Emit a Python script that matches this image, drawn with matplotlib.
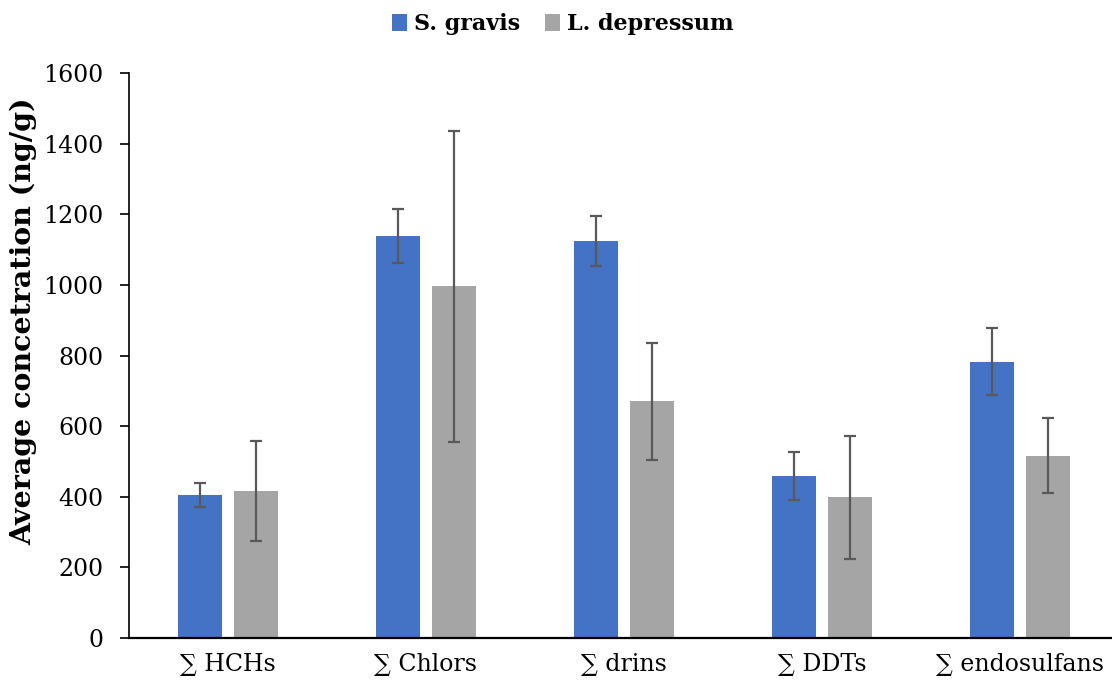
import matplotlib.pyplot as plt
import numpy as np

# data
categories = ["∑ HCHs", "∑ Chlors", "∑ drins", "∑ DDTs", "∑ endosulfans"]
series = ["S. gravis", "L. depressum"]
s_gravis = [405, 1138, 1125, 458, 782]
s_gravis_err = [33, 77, 71, 68, 95]
l_depressum = [416, 996, 670, 398, 516]
l_depressum_err = [142, 440, 166, 174, 106]
yticks = [0, 200, 400, 600, 800, 1000, 1200, 1400, 1600]

colors = ["#4472C4", "#A5A5A5"]

plt.rcParams['font.family'] = ['DejaVu Serif']

fig = plt.figure(figsize=(11.12, 6.96), dpi=100)
# the plot area runs a little past the right edge of the picture, as in the reference
ax = fig.add_axes([0.116, 0.0833, 0.8903, 0.8117])

x = np.arange(len(categories))
width = 0.22
offset = 0.1415
err_kw = dict(ecolor="#595959", elinewidth=1.6, capsize=4.5, capthick=1.6)

ax.bar(x - offset, s_gravis, width, yerr=s_gravis_err, color=colors[0],
       label=series[0], error_kw=err_kw, zorder=2)
ax.bar(x + offset, l_depressum, width, yerr=l_depressum_err, color=colors[1],
       label=series[1], error_kw=err_kw, zorder=2)

ax.set_xlim(-0.5, len(categories) - 0.5)
ax.set_ylim(0, 1600)
ax.set_yticks(yticks)
ax.set_xticks(x)
ax.set_xticklabels(categories, fontsize=17)
ax.tick_params(axis='x', length=0, pad=11)
ax.tick_params(axis='y', length=6.5, width=1.2, labelsize=17, pad=12)

for side in ('top', 'right'):
    ax.spines[side].set_visible(False)
ax.spines['left'].set_linewidth(1.2)
ax.spines['bottom'].set_linewidth(1.6)

# y label sits a bit above the axes centre in the reference
fig.text(0.021, 1 - 321 / 696, "Average concetration (ng/g)", fontsize=20.5,
         fontweight='bold', rotation=90, ha='center', va='center')

fig.legend(loc='upper center', bbox_to_anchor=(0.506, 1.01), ncol=2, frameon=False,
           prop=dict(size=16, weight='bold'),
           handlelength=0.7, handleheight=0.8, handletextpad=0.3, columnspacing=1.1)

fig.savefig("out.png", dpi=100)
